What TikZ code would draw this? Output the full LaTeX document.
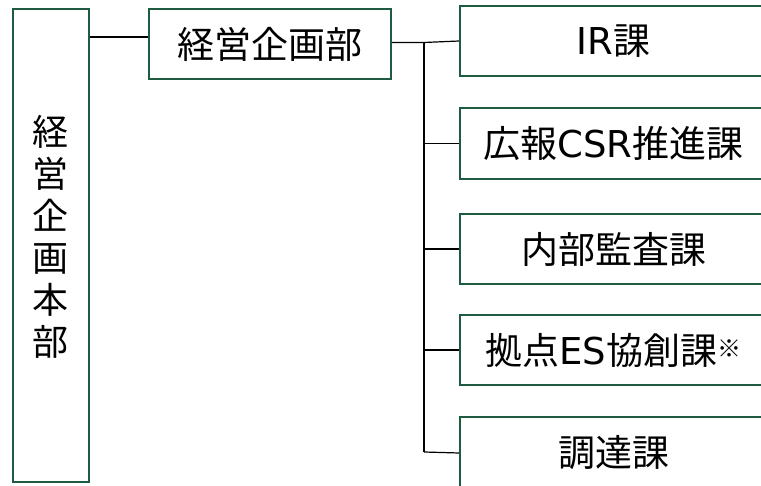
\documentclass[tikz,border=0pt]{standalone}
\usepackage{fontspec}
\setmainfont{Noto Sans CJK JP}
\newfontfamily\lat{DejaVu Sans}
\definecolor{bd}{HTML}{1E5C42}
\begin{document}
\begin{tikzpicture}[x=1pt,y=-1pt,
  box/.style={draw=bd, line width=2pt, fill=white, inner sep=0pt, anchor=north west,
    font=\fontsize{37}{42}\selectfont},
  sec/.style={box, minimum width=307pt, minimum height=70pt},
  conn/.style={draw=black, line width=1.2pt}]
\useasboundingbox (0,0) rectangle (761,486);
\clip (0,0) rectangle (761,486);
\fill[white] (0,0) rectangle (761,486);
% headquarters
\node[box, minimum width=76pt, minimum height=473pt] (hq) at (12,8) {};
\node[font=\fontsize{36}{42}\selectfont, align=center, inner sep=0pt] (hqt) at (50,237) {経\\営\\企\\画\\本\\部};
% department
\node[box, minimum width=242pt, minimum height=70pt] (dep) at (148,8) {経営企画部};
% sections
\node[sec] (ir) at (459,5) {{\lat IR}課};
\node[sec, minimum height=71pt] (pr) at (459,107) {広報{\lat CSR}推進課};
\node[sec] (au) at (459,213) {内部監査課};
\node[sec] (es) at (459,314) {拠点{\lat ES}協創課\raisebox{7pt}{\fontsize{24}{24}\selectfont ※}};
\node[sec, minimum height=72pt] (pu) at (459,416) {調達課};
% connectors
\coordinate (j) at (0,37);
\coordinate (t) at (424,42.5);
\coordinate (b) at (424,452);
\draw[conn] (hq.east |- j) -- (dep.west |- j);
\draw[conn] (dep.east |- t) -- (t) -- (ir.west);
\draw[conn] (t) -- (b);
\draw[conn] (t |- pr.west) -- (pr.west);
\draw[conn] (t |- au.west) -- (au.west);
\draw[conn] (t |- es.west) -- (es.west);
\draw[conn] (b) -- (pu.west);
\end{tikzpicture}
\end{document}
